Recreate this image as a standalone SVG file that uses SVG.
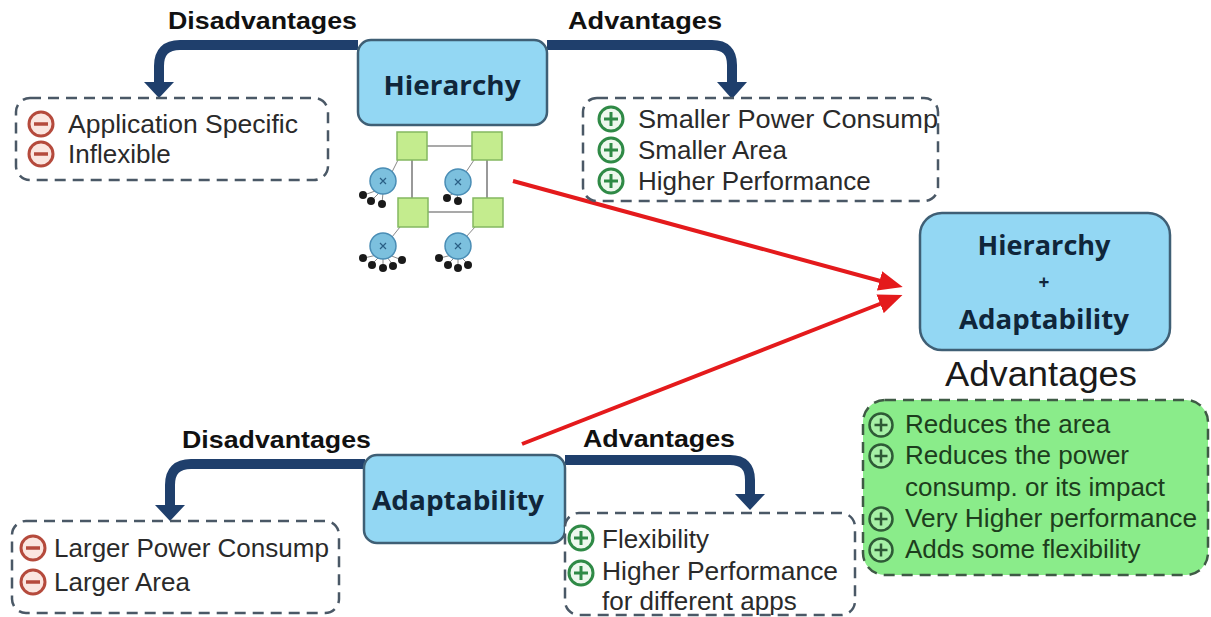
<svg xmlns="http://www.w3.org/2000/svg" width="1211" height="617" viewBox="0 0 1211 617">
  <defs>
    <style>
      .title { font-family: "Open Sans", "Liberation Sans", sans-serif; font-weight: 700; fill: #10263a; text-anchor: middle; }
      .label { font-family: "Liberation Sans", Arial, sans-serif; font-weight: 700; font-size: 24px; fill: #111; }
      .item { font-family: "Liberation Sans", Arial, sans-serif; font-size: 26px; fill: #2a2a2a; }
      .item-g { font-family: "Liberation Sans", Arial, sans-serif; font-size: 26px; fill: #1d3d1d; }
      .box { fill: #93d7f3; stroke: #3f5f75; stroke-width: 2.5; }
      .list { fill: #ffffff; stroke: #4a5866; stroke-width: 2.5; stroke-dasharray: 11 7; }
      .list-g { fill: #8aec8a; stroke: #3f5a45; stroke-width: 2.5; stroke-dasharray: 11 7; }
      .flow { fill: none; stroke: #1f3f6c; stroke-width: 10; }
      .head { fill: #1f3f6c; }
      .red { stroke: #e41a1c; stroke-width: 4; fill: none; }
      .minus circle { fill: #fbe6e0; stroke: #b54a3c; stroke-width: 3; }
      .minus line { stroke: #b54a3c; stroke-width: 3.5; }
      .plus circle { fill: #eef8ee; stroke: #2f8a46; stroke-width: 3; }
      .plus line { stroke: #2f8a46; stroke-width: 3; }
      .plus-g circle { fill: #a6f0a6; stroke: #2e5a36; stroke-width: 2.5; }
      .plus-g line { stroke: #2e5a36; stroke-width: 2.5; }
      .sw { fill: #c4ec8e; stroke: #84b860; stroke-width: 1.5; }
      .link { stroke: #555; stroke-width: 1.2; }
      .host { fill: #7cc0de; stroke: #4a8db5; stroke-width: 1.5; }
      .dot { fill: #1a1a1a; }
      .wire { stroke: #888; stroke-width: 1; }
    </style>
    <g id="ico-minus" class="minus"><circle r="12"/><line x1="-7" y1="0" x2="7" y2="0"/></g>
    <g id="ico-plus" class="plus"><circle r="12"/><line x1="-7" y1="0" x2="7" y2="0"/><line x1="0" y1="-7" x2="0" y2="7"/></g>
    <g id="ico-plus-g" class="plus-g"><circle r="11.5"/><line x1="-6.5" y1="0" x2="6.5" y2="0"/><line x1="0" y1="-6.5" x2="0" y2="6.5"/></g>
    <marker id="red-head" markerWidth="6" markerHeight="5" refX="4" refY="2.5" orient="auto" markerUnits="strokeWidth">
      <path d="M0,0 L6,2.5 L0,5 Z" fill="#e41a1c"/>
    </marker>
  </defs>

  <rect width="1211" height="617" fill="#ffffff"/>

  <!-- connectors -->
  <g id="connectors">
    <path class="flow" d="M 358 45 H 180 Q 159 45 159 66 V 85"/>
    <polygon class="head" points="144,82 174,82 159,98"/>
    <path class="flow" d="M 547 45 H 712 Q 732 45 732 65 V 85"/>
    <polygon class="head" points="717,82 747,82 732,99"/>
    <path class="flow" d="M 365 464 H 191 Q 170 464 170 485 V 508"/>
    <polygon class="head" points="155,505 185,505 170,521"/>
    <path class="flow" d="M 565 460 H 730 Q 750 460 750 480 V 497"/>
    <polygon class="head" points="735,494 765,494 750,510"/>
    <line class="red" x1="513" y1="181" x2="895" y2="285" marker-end="url(#red-head)"/>
    <line class="red" x1="522" y1="444" x2="895" y2="298" marker-end="url(#red-head)"/>
    <text class="label" x="168" y="29" textLength="189" lengthAdjust="spacingAndGlyphs">Disadvantages</text>
    <text class="label" x="568" y="29" textLength="154" lengthAdjust="spacingAndGlyphs">Advantages</text>
    <text class="label" x="182" y="448" textLength="189" lengthAdjust="spacingAndGlyphs">Disadvantages</text>
    <text class="label" x="583" y="447" textLength="152" lengthAdjust="spacingAndGlyphs">Advantages</text>
  </g>

  <!-- Hierarchy node -->
  <g id="hierarchy">
    <rect class="box" x="358" y="40" width="189" height="85" rx="13"/>
    <text class="title" x="452" y="95" font-size="27" textLength="137" lengthAdjust="spacingAndGlyphs">Hierarchy</text>
  </g>

  <!-- hierarchical network sketch -->
  <g id="network">
    <line class="link" x1="427" y1="146" x2="472" y2="146"/>
    <line class="link" x1="428" y1="212" x2="473" y2="212"/>
    <line class="link" x1="412" y1="160" x2="412" y2="198"/>
    <line class="link" x1="487" y1="160" x2="487" y2="198"/>
    <line class="wire" x1="392" y1="172" x2="398" y2="160"/>
    <line class="wire" x1="466" y1="172" x2="474" y2="160"/>
    <line class="wire" x1="392" y1="237" x2="400" y2="227"/>
    <line class="wire" x1="466" y1="237" x2="475" y2="227"/>
    <rect class="sw" x="397" y="132" width="30" height="28"/>
    <rect class="sw" x="472" y="132" width="30" height="28"/>
    <rect class="sw" x="398" y="198" width="30" height="29"/>
    <rect class="sw" x="473" y="198" width="30" height="29"/>
    <g class="wire">
      <line x1="378" y1="190" x2="364" y2="195"/><line x1="380" y1="192" x2="371" y2="201"/><line x1="383" y1="193" x2="382" y2="203"/>
      <line x1="454" y1="193" x2="447" y2="197"/><line x1="457" y1="194" x2="458" y2="200"/>
      <line x1="377" y1="255" x2="364" y2="258"/><line x1="379" y1="257" x2="372" y2="264"/><line x1="383" y1="258" x2="383" y2="267"/><line x1="387" y1="257" x2="393" y2="265"/><line x1="389" y1="255" x2="402" y2="260"/>
      <line x1="452" y1="255" x2="440" y2="258"/><line x1="455" y1="257" x2="448" y2="264"/><line x1="458" y1="258" x2="458" y2="267"/><line x1="461" y1="257" x2="468" y2="264"/>
    </g>
    <g class="host">
      <circle cx="383" cy="181" r="13"/><circle cx="458" cy="182" r="13"/>
      <circle cx="383" cy="246" r="13"/><circle cx="458" cy="246" r="13"/>
    </g>
    <g stroke="#2a5f85" stroke-width="1.2">
      <path d="M380 178 l6 6 M386 178 l-6 6"/><path d="M455 179 l6 6 M461 179 l-6 6"/>
      <path d="M380 243 l6 6 M386 243 l-6 6"/><path d="M455 243 l6 6 M461 243 l-6 6"/>
    </g>
    <g class="dot">
      <circle cx="363" cy="195" r="4"/><circle cx="371" cy="201" r="4"/><circle cx="382" cy="204" r="4"/>
      <circle cx="447" cy="198" r="4"/><circle cx="458" cy="201" r="4"/>
      <circle cx="363" cy="258" r="4"/><circle cx="372" cy="265" r="4"/><circle cx="383" cy="268" r="4"/><circle cx="393" cy="266" r="4"/><circle cx="402" cy="260" r="4"/>
      <circle cx="439" cy="258" r="4"/><circle cx="448" cy="265" r="4"/><circle cx="458" cy="268" r="4"/><circle cx="468" cy="265" r="4"/>
    </g>
  </g>

  <!-- Hierarchy: disadvantages -->
  <g id="hier-disadv">
    <rect class="list" x="16" y="98" width="312" height="82" rx="14"/>
    <use href="#ico-minus" x="41" y="124"/>
    <use href="#ico-minus" x="41" y="154"/>
    <text class="item" x="68" y="133" textLength="230" lengthAdjust="spacingAndGlyphs">Application Specific</text>
    <text class="item" x="68" y="163">Inflexible</text>
  </g>

  <!-- Hierarchy: advantages -->
  <g id="hier-adv">
    <rect class="list" x="583" y="98" width="355" height="103" rx="14"/>
    <use href="#ico-plus" x="611" y="119"/>
    <use href="#ico-plus" x="611" y="150"/>
    <use href="#ico-plus" x="611" y="181"/>
    <text class="item" x="638" y="128" textLength="300" lengthAdjust="spacingAndGlyphs">Smaller Power Consump</text>
    <text class="item" x="638" y="159">Smaller Area</text>
    <text class="item" x="638" y="190">Higher Performance</text>
  </g>

  <!-- Combined node -->
  <g id="combined">
    <rect class="box" x="920" y="213" width="250" height="137" rx="22"/>
    <text class="title" x="1044" y="255" font-size="26" textLength="133" lengthAdjust="spacingAndGlyphs">Hierarchy</text>
    <text class="title" x="1044" y="289" font-size="19">+</text>
    <text class="title" x="1044" y="329" font-size="26" textLength="170" lengthAdjust="spacingAndGlyphs">Adaptability</text>
  </g>

  <!-- Combined: advantages -->
  <g id="combined-adv">
    <text x="945" y="386" font-family="Liberation Sans, Arial, sans-serif" font-size="35" fill="#1a1a1a" textLength="192" lengthAdjust="spacingAndGlyphs">Advantages</text>
    <rect class="list-g" x="863" y="400" width="345" height="175" rx="22"/>
    <use href="#ico-plus-g" x="881" y="425"/>
    <use href="#ico-plus-g" x="881" y="456"/>
    <use href="#ico-plus-g" x="881" y="519"/>
    <use href="#ico-plus-g" x="881" y="550"/>
    <text class="item-g" x="905" y="433">Reduces the area</text>
    <text class="item-g" x="905" y="464">Reduces the power</text>
    <text class="item-g" x="905" y="496">consump. or its impact</text>
    <text class="item-g" x="905" y="527" textLength="292" lengthAdjust="spacingAndGlyphs">Very Higher performance</text>
    <text class="item-g" x="905" y="558">Adds some flexibility</text>
  </g>

  <!-- Adaptability node -->
  <g id="adaptability">
    <rect class="box" x="364" y="455" width="201" height="88" rx="13"/>
    <text class="title" x="458" y="510" font-size="27" textLength="172" lengthAdjust="spacingAndGlyphs">Adaptability</text>
  </g>

  <!-- Adaptability: disadvantages -->
  <g id="adapt-disadv">
    <rect class="list" x="12" y="521" width="327" height="92" rx="14"/>
    <use href="#ico-minus" x="33" y="548"/>
    <use href="#ico-minus" x="33" y="582"/>
    <text class="item" x="54" y="557" textLength="275" lengthAdjust="spacingAndGlyphs">Larger Power Consump</text>
    <text class="item" x="54" y="591">Larger Area</text>
  </g>

  <!-- Adaptability: advantages -->
  <g id="adapt-adv">
    <rect class="list" x="565" y="513" width="290" height="102" rx="14"/>
    <use href="#ico-plus" x="581" y="538"/>
    <use href="#ico-plus" x="581" y="573"/>
    <text class="item" x="602" y="548">Flexibility</text>
    <text class="item" x="602" y="580" textLength="236" lengthAdjust="spacingAndGlyphs">Higher Performance</text>
    <text class="item" x="602" y="610">for different apps</text>
  </g>
</svg>
